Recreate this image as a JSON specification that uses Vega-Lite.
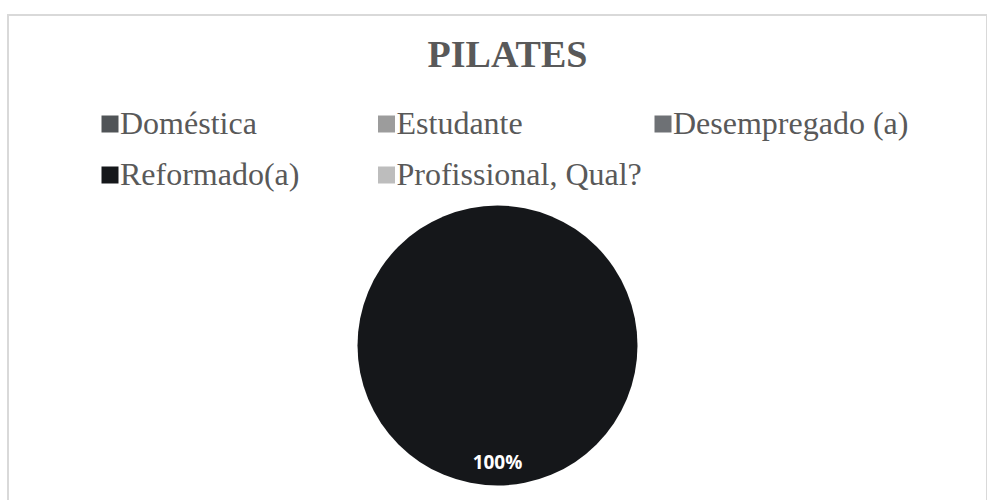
{
  "$schema": "https://vega.github.io/schema/vega-lite/v6.json",
  "autosize": "none",
  "width": 979,
  "height": 661,
  "padding": {"left": 8, "top": 15, "right": 0, "bottom": 0},
  "background": "white",
  "config": {
    "view": {"stroke": null}
  },
  "title": {
    "text": "PILATES",
    "font": "Liberation Serif",
    "fontWeight": "bold",
    "fontSize": 38,
    "color": "#595959",
    "anchor": "middle",
    "baseline": "alphabetic",
    "offset": -91,
    "dx": 10
  },
  "data": {
    "values": [
      {"category": "Doméstica", "share": 0},
      {"category": "Estudante", "share": 0},
      {"category": "Desempregado (a)", "share": 0},
      {"category": "Reformado(a)", "share": 1},
      {"category": "Profissional, Qual?", "share": 0}
    ]
  },
  "layer": [
    {
      "data": {"values": [{"frame": "chart"}]},
      "mark": {"type": "rect", "fill": null, "stroke": "#d9d9d9", "strokeWidth": 2},
      "encoding": {}
    },
    {
      "mark": {"type": "arc", "radius": 140},
      "encoding": {
        "theta": {"field": "share", "type": "quantitative", "stack": true},
        "color": {
          "field": "category",
          "type": "nominal",
          "sort": null,
          "scale": {
            "domain": ["Doméstica", "Estudante", "Desempregado (a)", "Reformado(a)", "Profissional, Qual?"],
            "range": ["#505457", "#9c9c9c", "#6e7175", "#15171a", "#bdbdbd"]
          },
          "legend": {
            "orient": "none",
            "legendX": 86,
            "legendY": 93,
            "title": null,
            "columns": 3,
            "direction": "horizontal",
            "gridAlign": "all",
            "columnPadding": 4.5,
            "rowPadding": 19,
            "symbolType": "square",
            "symbolSize": 289,
            "symbolStrokeWidth": 0,
            "labelOffset": -6,
            "labelFont": "Liberation Serif",
            "labelFontSize": 32,
            "labelColor": "#595959",
            "labelLimit": 400
          }
        },
        "order": {"field": "category", "sort": "ascending"}
      }
    },
    {
      "transform": [{"filter": "datum.share > 0"}],
      "mark": {
        "type": "text",
        "radius": 117,
        "font": "Open Sans",
        "fontWeight": "bold",
        "fontSize": 19,
        "color": "white",
        "baseline": "middle",
        "align": "center"
      },
      "encoding": {
        "theta": {"field": "share", "type": "quantitative", "stack": true},
        "text": {"field": "share", "type": "quantitative", "format": ".0%"}
      }
    }
  ]
}
